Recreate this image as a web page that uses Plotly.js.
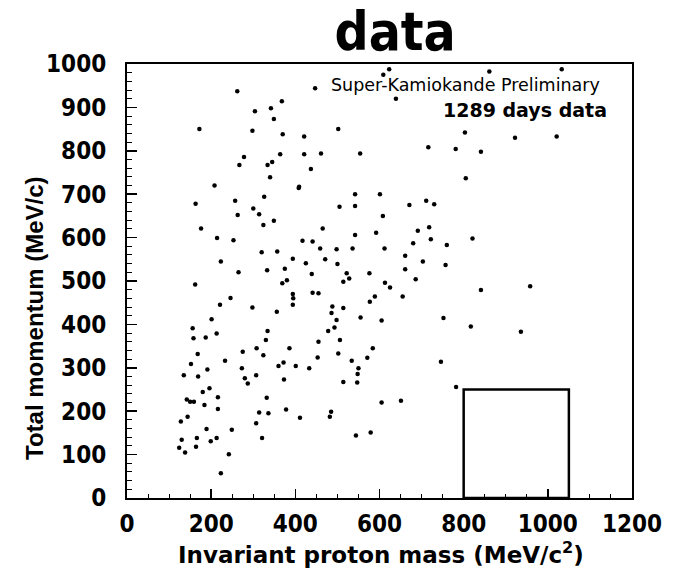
<!DOCTYPE html>
<html>
<head>
<meta charset="utf-8">
<script src="https://cdn.plot.ly/plotly-3.0.1.min.js"></script>
<style>html,body{margin:0;padding:0;background:#fff;}#chart{width:683px;height:580px;}</style>
</head>
<body>
<div id="chart"></div>
<script>
// Invariant proton mass (MeV/c^2)
const massX = [262,368,304,342,349,172,298,370,278,267,364,345,334,340,208,408,163,257,326,300,
623,609,447,639,502,421,421,461,554,716,781,803,437,409,805,542,601,505,542,671,730,711,
861,1033,922,1021,841,
263,314,324,349,176,214,253,320,357,394,223,265,333,375,162,369,380,394,395,394,246,221,298,356,201,156,158,187,213,334,330,308,386,168,275,324,
608,465,542,592,718,691,417,441,722,680,760,459,498,536,612,661,425,471,500,703,757,439,522,528,514,576,661,686,613,625,441,455,589,577,655,488,514,486,498,555,605,752,493,478,455,506,584,453,502,571,
821,841,958,817,936,
152,191,233,135,169,273,280,287,307,360,372,401,373,180,196,142,150,159,184,216,216,332,314,336,378,411,128,144,307,189,249,130,124,138,164,166,199,213,321,242,223,
433,534,550,548,514,547,746,782,605,651,485,482,544,579];
// Total momentum (MeV/c)
const momentumY = [937,914,891,898,873,850,846,838,786,767,792,774,767,739,720,714,678,685,694,667,
988,975,944,920,850,833,792,794,794,808,804,842,758,717,737,700,700,671,673,675,677,685,
983,988,830,833,798,
652,654,629,639,621,599,594,566,568,551,545,520,525,528,492,495,502,470,460,445,461,445,439,429,412,391,368,370,379,385,364,345,345,332,337,329,
650,621,606,611,624,616,593,591,596,587,583,575,573,575,575,558,541,550,539,545,537,516,518,506,498,518,527,504,496,485,473,472,464,452,464,441,438,426,410,416,409,415,393,385,360,364,345,324,333,323,
598,479,488,395,383,
309,296,316,283,280,299,276,264,283,304,312,304,273,244,253,227,222,222,214,232,205,231,197,195,204,185,176,187,172,159,157,134,116,105,118,138,131,138,138,101,57,
299,316,299,286,267,266,314,256,220,224,199,187,144,151];

const xTickVals = [0,200,400,600,800,1000,1200];
const yTickVals = [0,100,200,300,400,500,600,700,800,900,1000];
// signal box (mass window x momentum cut)
const boxMass = [800,1050];
const boxMomentum = [0,250];

const condBold = {family:'"DejaVu Sans Condensed", "DejaVu Sans", sans-serif', size:24, color:'#000', weight:'bold'};

const trace = {
  x: massX, y: momentumY, type:'scatter', mode:'markers',
  marker:{color:'#000', size:4.5, symbol:'circle'},
  hoverinfo:'x+y', showlegend:false
};

const layout = {
  width:683, height:580,
  margin:{l:127, r:51, t:64, b:82},
  paper_bgcolor:'#fff', plot_bgcolor:'#fff',
  title:{text:'data', font:{family:'"DejaVu Sans Condensed", "DejaVu Sans", sans-serif', size:53, color:'#000', weight:'bold'},
         xref:'paper', x:0.531, xanchor:'center', yref:'container', y:0.945, yanchor:'middle'},
  xaxis:{range:[0,1200], tickvals:xTickVals, ticktext:xTickVals.map(String),
         ticks:'inside', ticklen:9, tickwidth:1.5, tickcolor:'#000',
         minor:{dtick:50, tick0:0, ticks:'inside', ticklen:4, tickwidth:1, tickcolor:'#000', showgrid:false},
         showline:true, linewidth:2, linecolor:'#000', mirror:true,
         showgrid:false, zeroline:false, tickfont:condBold, ticklabelstandoff:3},
  yaxis:{range:[0,1000], tickvals:yTickVals, ticktext:yTickVals.map(String),
         ticks:'inside', ticklen:10, tickwidth:1.5, tickcolor:'#000',
         minor:{dtick:20, tick0:0, ticks:'inside', ticklen:5, tickwidth:1, tickcolor:'#000', showgrid:false},
         showline:true, linewidth:2, linecolor:'#000', mirror:true,
         showgrid:false, zeroline:false, tickfont:condBold, ticklabelstandoff:14},
  shapes:[{type:'rect', xref:'x', yref:'y', x0:boxMass[0], x1:boxMass[1], y0:boxMomentum[0], y1:boxMomentum[1],
           line:{color:'#000', width:2.5}, fillcolor:'rgba(0,0,0,0)'}],
  annotations:[
    {text:'Super-Kamiokande Preliminary', xref:'paper', yref:'paper', x:0.40, y:0.952, xanchor:'left', yanchor:'middle',
     showarrow:false, font:{family:'"DejaVu Sans", sans-serif', size:17.5, color:'#000'}},
    {text:'1289 days data', xref:'paper', yref:'paper', x:0.954, y:0.894, xanchor:'right', yanchor:'middle',
     showarrow:false, font:{family:'"DejaVu Sans", sans-serif', size:19, color:'#000', weight:'bold'}},
    {text:'Invariant proton mass (MeV/c<sup>2</sup>)', xref:'paper', yref:'paper', x:0.503, y:-0.127, xanchor:'center', yanchor:'middle',
     showarrow:false, font:{family:'"DejaVu Sans", sans-serif', size:23, color:'#000', weight:'bold'}},
    {text:'Total momentum (MeV/c)', xref:'paper', yref:'paper', x:-0.182, y:0.415, xanchor:'center', yanchor:'middle', textangle:-90,
     showarrow:false, font:{family:'"Liberation Sans", Arial, sans-serif', size:24, color:'#000', weight:'bold'}}
  ]
};

Plotly.newPlot('chart', [trace], layout, {displayModeBar:false, staticPlot:true});
</script>
</body>
</html>
